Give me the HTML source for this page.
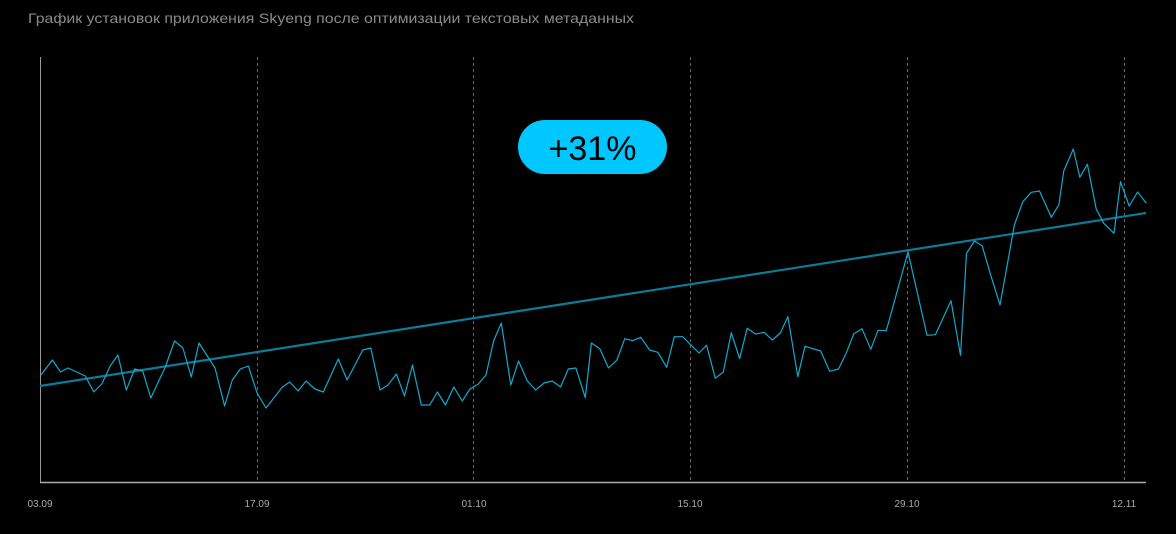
<!DOCTYPE html>
<html><head><meta charset="utf-8"><style>
html,body{margin:0;padding:0;background:#000;width:1176px;height:534px;overflow:hidden}
svg{display:block}
</style></head><body>
<svg width="1176" height="534" viewBox="0 0 1176 534" xmlns="http://www.w3.org/2000/svg">
<rect width="1176" height="534" fill="#000"/>
<text x="28" y="23" fill="#8a8a8a" font-family="Liberation Sans, sans-serif" font-size="14" textLength="606" lengthAdjust="spacingAndGlyphs">График установок приложения Skyeng после оптимизации текстовых метаданных</text>
<g stroke="#666" stroke-width="1" stroke-dasharray="3,3">
<line x1="257.5" y1="57" x2="257.5" y2="482"/>
<line x1="473.5" y1="57" x2="473.5" y2="482"/>
<line x1="690.5" y1="57" x2="690.5" y2="482"/>
<line x1="907.5" y1="57" x2="907.5" y2="482"/>
<line x1="1124.5" y1="57" x2="1124.5" y2="482"/>
</g>
<line x1="40.5" y1="57" x2="40.5" y2="482" stroke="#999" stroke-width="1"/>
<line x1="40" y1="482.5" x2="1146" y2="482.5" stroke="#aaa" stroke-width="1.5"/>
<g fill="#aaa" font-family="Liberation Sans, sans-serif" font-size="10" text-anchor="middle">
<text x="40" y="507">03.09</text>
<text x="257" y="507">17.09</text>
<text x="474" y="507">01.10</text>
<text x="690" y="507">15.10</text>
<text x="907" y="507">29.10</text>
<text x="1124" y="507">12.11</text>
</g>
<line x1="40" y1="386" x2="1146" y2="213" stroke="#0a7d98" stroke-width="2.2"/>
<polyline fill="none" stroke="#12a9cf" stroke-width="1.2" stroke-linejoin="round" points="40.9,375 52.4,360 60.5,372 68.1,368 85.3,376 93.8,392 101.8,384 110.2,366 117.9,355 126.3,390 134.7,369 142.7,371 150.8,398 165.3,367 174.5,341 182.9,348 191.3,377 199,343 215,368 224.6,406 232.3,380 240.3,369 248.3,366 257.1,393 266,408 282.4,387 289.7,382 298.1,391 306.1,381 314.9,389 323.3,392 338.3,359 347.1,380 362.8,350 370.8,348 380,390 388,385 396.4,374 404.5,396 412.5,365 421.3,405 429.7,405 437.4,392 445.4,405 453.8,387 462.3,401 469.9,389 478.3,384 486,375 493.6,341 501.3,323 510.8,385 518.5,361 527.3,381 535.7,390 544.1,383 552.2,381 560.6,387 568.3,369 575.9,368 585.3,397.7 591.4,343 599.8,348.7 608.5,368 616.9,360 624.8,338.7 632.5,340.7 640.8,337.3 649.6,350 657.9,352.3 666.7,367.3 674.3,336.7 682.6,336.7 699,353 706.6,345.3 715.3,378.3 723.3,372 731.3,332.7 739.6,358.7 747.2,328.3 755.6,334 764.3,332.3 772.3,340 780.3,333 787.9,316.7 797.8,376.7 805,346.3 820.6,351 829.7,371.3 838.5,369 846.1,353.3 853.7,334 862,328.7 870.8,349.3 878,330.3 886.3,330.7 908,252 927,335.3 935.4,334.7 951,300.7 960.5,355.3 966.5,253.3 974.5,241 982.1,245.7 991.2,276.7 1000,305 1014.4,225 1022.8,201.7 1031.2,192.3 1039.5,191 1051.3,217.3 1058.9,204.7 1063.8,170.7 1073.3,149 1079.8,177.3 1087.4,164.3 1096.2,209 1103.8,223.3 1114,233.3 1120.5,181.7 1129.2,206 1137.6,192 1146.3,203.3"/>
<rect x="518" y="120" width="149" height="54" rx="27" fill="#00c8ff"/>
<text x="592.5" y="160" fill="#000" font-family="Liberation Sans, sans-serif" font-size="34" text-anchor="middle">+31%</text>
</svg>
</body></html>
